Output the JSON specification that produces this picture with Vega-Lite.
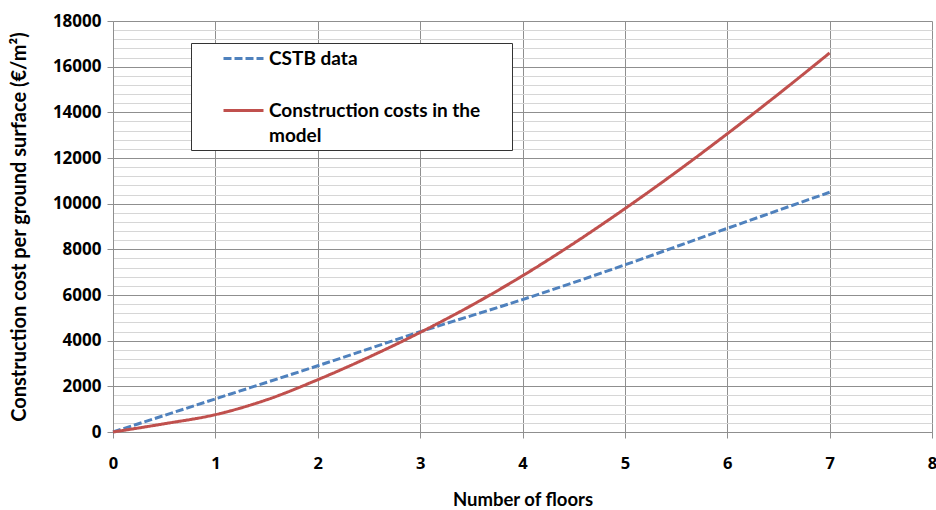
{
  "$schema": "https://vega.github.io/schema/vega-lite/v6.json",
  "width": 819,
  "height": 411,
  "autosize": {"type": "none"},
  "padding": {"left": 113, "top": 21, "right": 4, "bottom": 78},
  "background": "white",
  "config": {
    "view": {"stroke": null},
    "font": "Lato",
    "style": {"guide-label": {"lineHeight": 25}}
  },
  "data": {
    "values": [
      {"floors": 0, "cost": 0, "series": "CSTB data"},
      {"floors": 1, "cost": 1450, "series": "CSTB data"},
      {"floors": 2, "cost": 2900, "series": "CSTB data"},
      {"floors": 3, "cost": 4390, "series": "CSTB data"},
      {"floors": 4, "cost": 5800, "series": "CSTB data"},
      {"floors": 5, "cost": 7320, "series": "CSTB data"},
      {"floors": 6, "cost": 8920, "series": "CSTB data"},
      {"floors": 7, "cost": 10500, "series": "CSTB data"},
      {"floors": 0, "cost": 0, "series": "Construction costs in the model"},
      {"floors": 0.5, "cost": 360, "series": "Construction costs in the model"},
      {"floors": 1, "cost": 760, "series": "Construction costs in the model"},
      {"floors": 1.5, "cost": 1410, "series": "Construction costs in the model"},
      {"floors": 2, "cost": 2290, "series": "Construction costs in the model"},
      {"floors": 2.5, "cost": 3280, "series": "Construction costs in the model"},
      {"floors": 3, "cost": 4360, "series": "Construction costs in the model"},
      {"floors": 3.5, "cost": 5540, "series": "Construction costs in the model"},
      {"floors": 4, "cost": 6840, "series": "Construction costs in the model"},
      {"floors": 4.5, "cost": 8260, "series": "Construction costs in the model"},
      {"floors": 5, "cost": 9780, "series": "Construction costs in the model"},
      {"floors": 5.5, "cost": 11380, "series": "Construction costs in the model"},
      {"floors": 6, "cost": 13060, "series": "Construction costs in the model"},
      {"floors": 6.5, "cost": 14800, "series": "Construction costs in the model"},
      {"floors": 7, "cost": 16600, "series": "Construction costs in the model"}
    ]
  },
  "mark": {"type": "line", "strokeWidth": 3, "interpolate": "monotone"},
  "encoding": {
    "x": {
      "field": "floors",
      "type": "quantitative",
      "scale": {"domain": [0, 8], "nice": false, "zero": true},
      "axis": {
        "title": "Number of floors",
        "tickCount": 40,
        "format": "d",
        "labelExpr": "abs(datum.value - round(datum.value)) < 0.001 ? datum.label : ''",
        "grid": true,
        "gridColor": {"condition": {"test": "abs(datum.value - round(datum.value)) < 0.001", "value": "#8f8f8f"}, "value": "#d6d6d6"},
        "gridWidth": 1,
        "tickOpacity": {"condition": {"test": "abs(datum.value - round(datum.value)) < 0.001", "value": 1}, "value": 0},
        "tickColor": "#8f8f8f",
        "tickSize": 6,
        "domainColor": "#8f8f8f",
        "labelFont": "Open Sans",
        "labelFontSize": 16.5,
        "labelFontWeight": "bold",
        "labelColor": "black",
        "labelPadding": 17,
        "labelFlush": false,
        "labelOverlap": false,
        "titleFont": "Lato",
        "titleFontSize": 18.5,
        "titleFontWeight": "bold",
        "titleColor": "black",
        "titlePadding": 19
      }
    },
    "y": {
      "field": "cost",
      "type": "quantitative",
      "scale": {"domain": [0, 18000], "nice": false},
      "axis": {
        "title": "Construction cost per ground surface (€/m²)",
        "values": [0,400,800,1200,1600,2000,2400,2800,3200,3600,4000,4400,4800,5200,5600,6000,6400,6800,7200,7600,8000,8400,8800,9200,9600,10000,10400,10800,11200,11600,12000,12400,12800,13200,13600,14000,14400,14800,15200,15600,16000,16400,16800,17200,17600,18000],
        "tickCount": 500,
        "format": "d",
        "labelExpr": "datum.value % 2000 === 0 ? datum.label : ''",
        "grid": true,
        "gridColor": {"condition": {"test": "datum.value % 2000 === 0", "value": "#8f8f8f"}, "value": "#d6d6d6"},
        "gridWidth": 1,
        "tickOpacity": {"condition": {"test": "datum.value % 2000 === 0", "value": 1}, "value": 0},
        "tickColor": "#8f8f8f",
        "tickSize": 6,
        "domainColor": "#8f8f8f",
        "labelFont": "Open Sans",
        "labelFontSize": 17,
        "labelFontWeight": "bold",
        "labelColor": "black",
        "labelPadding": 6,
        "labelFlush": false,
        "labelOverlap": false,
        "titleFont": "Lato",
        "titleFontSize": 20,
        "titleFontWeight": "bold",
        "titleColor": "black",
        "titlePadding": 23
      }
    },
    "color": {
      "field": "series",
      "type": "nominal",
      "scale": {"domain": ["CSTB data", "Construction costs in the model"], "range": ["#4f81bd", "#c0504d"]},
      "legend": {
        "title": null,
        "orient": "none",
        "legendX": 78,
        "legendY": 22,
        "padding": 4,
        "symbolOffset": 37,
        "symbolType": "M-2,0H2",
        "symbolSize": 400,
        "symbolStrokeWidth": 3,
        "labelFont": "Lato",
        "labelFontSize": 19,
        "labelFontWeight": "bold",
        "labelColor": "black",
        "labelOffset": 14,
        "labelLimit": 500,
        "rowPadding": 30,
        "strokeColor": "#333333",
        "fillColor": "white",
        "labelExpr": "datum.label == 'Construction costs in the model' ? ['Construction costs in the\u00a0\u00a0\u00a0\u00a0\u00a0\u00a0\u200b', 'model'] : datum.label"
      }
    },
    "strokeDash": {
      "field": "series",
      "type": "nominal",
      "scale": {"domain": ["CSTB data", "Construction costs in the model"], "range": [[8, 3], [1, 0]]},
      "legend": {
        "title": null,
        "orient": "none",
        "legendX": 78,
        "legendY": 22,
        "padding": 4,
        "symbolOffset": 37,
        "symbolType": "M-2,0H2",
        "symbolSize": 400,
        "symbolStrokeWidth": 3,
        "labelFont": "Lato",
        "labelFontSize": 19,
        "labelFontWeight": "bold",
        "labelColor": "black",
        "labelOffset": 14,
        "labelLimit": 500,
        "rowPadding": 30,
        "strokeColor": "#333333",
        "fillColor": "white",
        "labelExpr": "datum.label == 'Construction costs in the model' ? ['Construction costs in the\u00a0\u00a0\u00a0\u00a0\u00a0\u00a0\u200b', 'model'] : datum.label"
      }
    }
  }
}
